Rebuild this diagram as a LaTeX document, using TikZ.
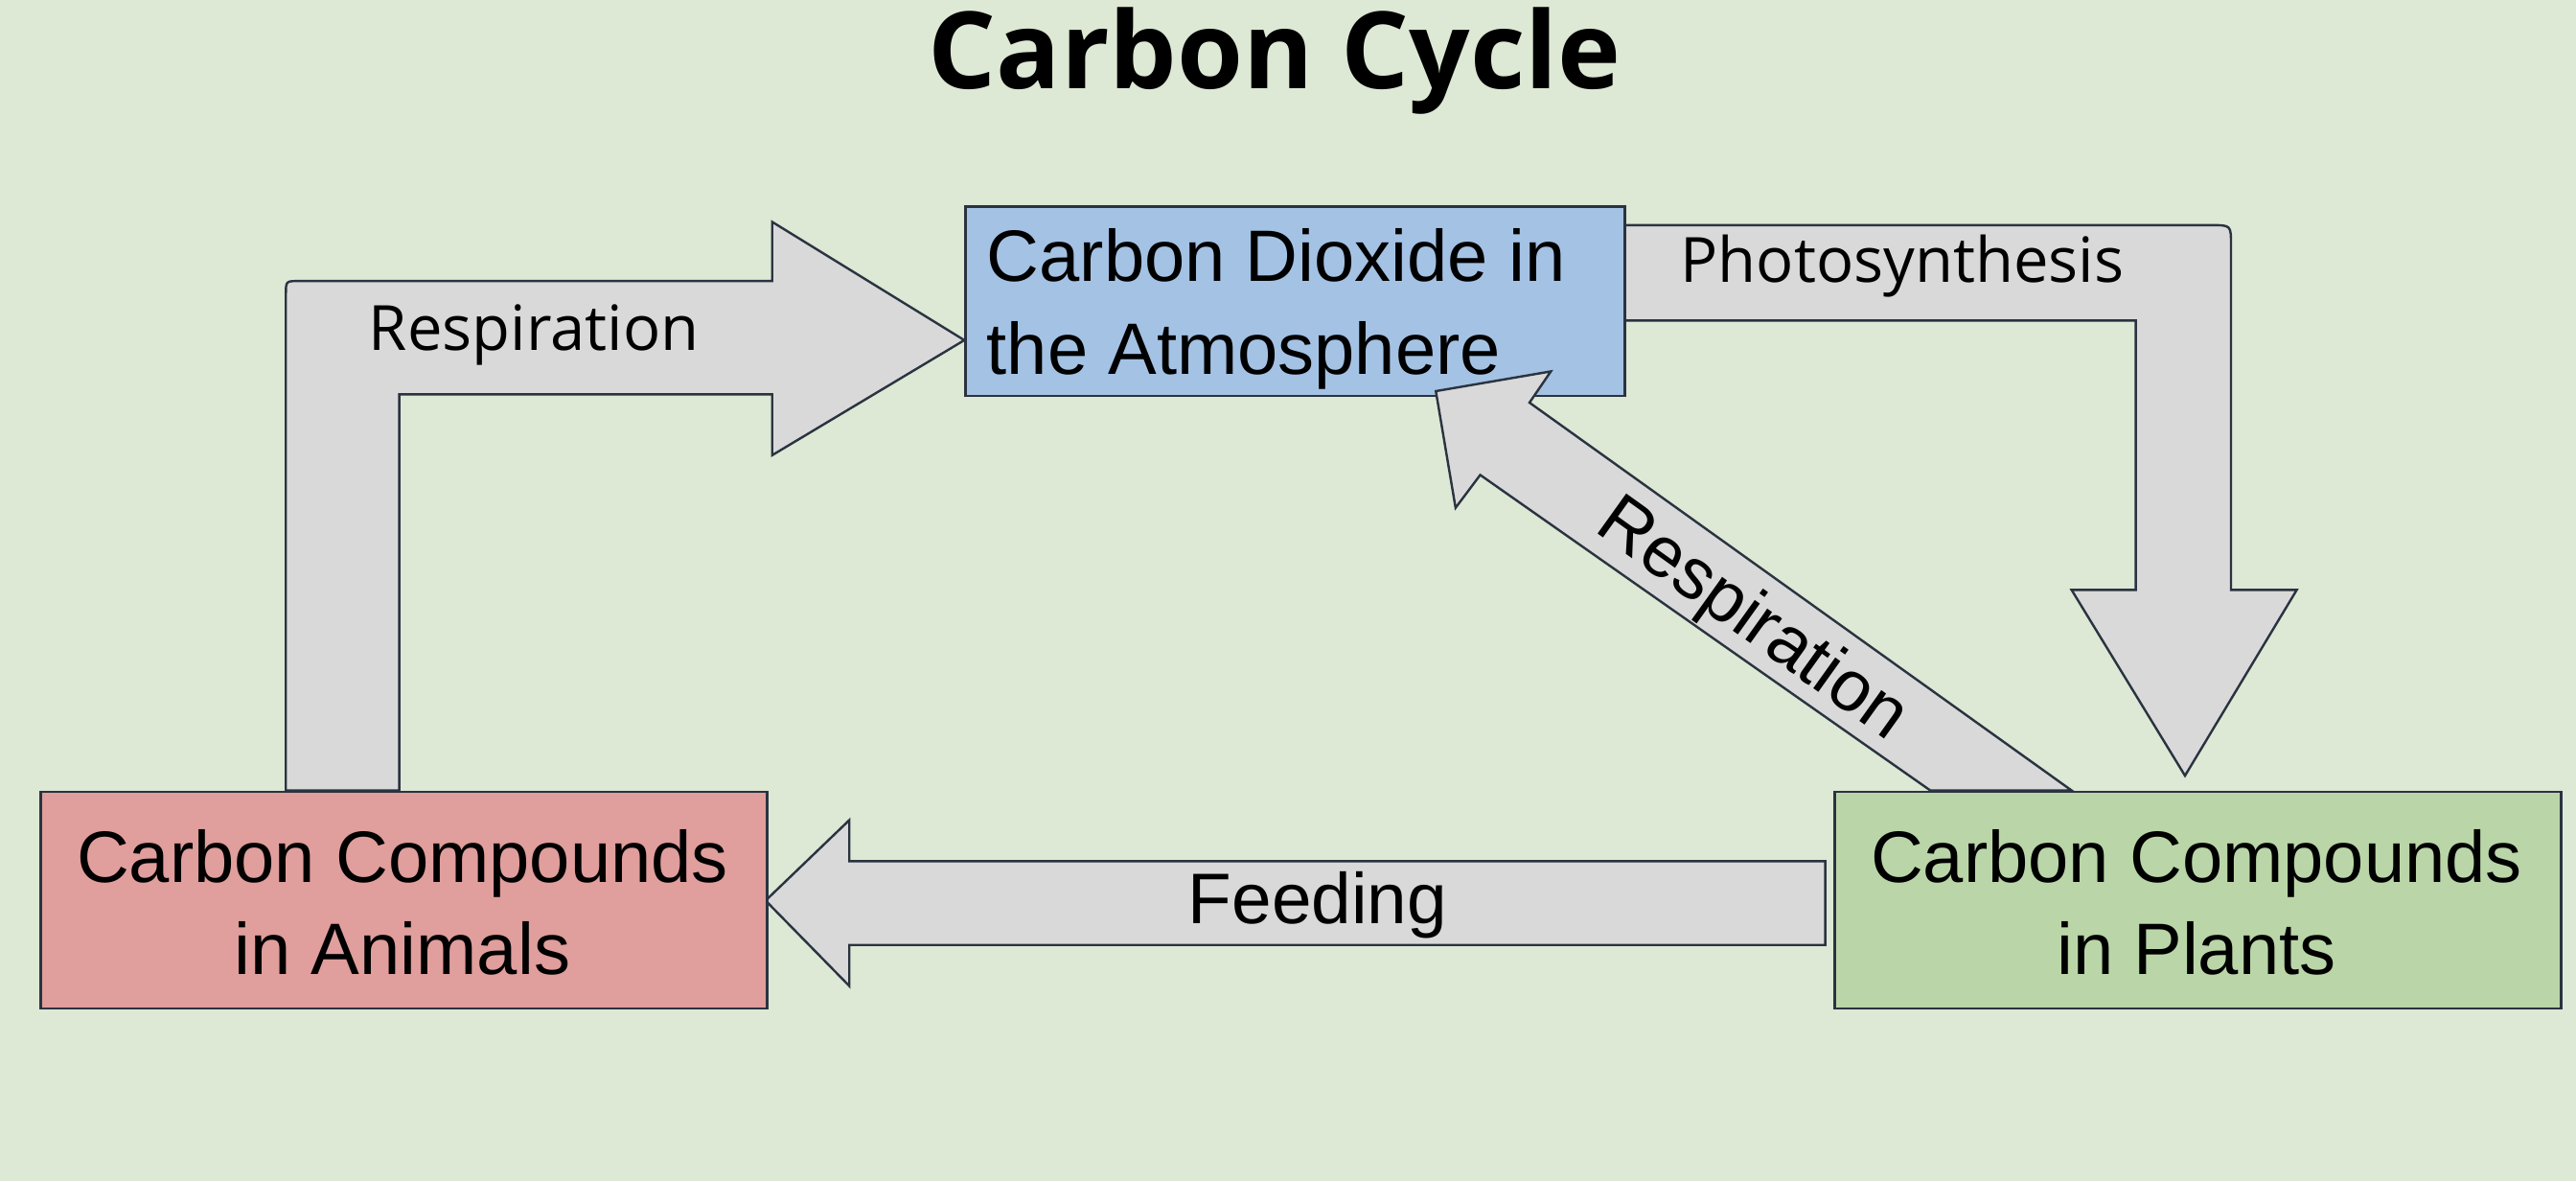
\documentclass[tikz,border=0pt]{standalone}
\usepackage{fontspec}
\setmainfont{Liberation Sans}
\newfontfamily\titlefont{Open Sans}
\definecolor{bg}{HTML}{DDE8D5}
\definecolor{arr}{HTML}{D9D9D9}
\definecolor{bluebox}{HTML}{A4C2E4}
\definecolor{redbox}{HTML}{E09E9C}
\definecolor{greenbox}{HTML}{BAD6A8}
\definecolor{edge}{HTML}{2A3340}
\begin{document}
\begin{tikzpicture}[x=0.01cm,y=-0.01cm,
  boxs/.style={draw=edge,line width=0.4pt,anchor=north west,inner sep=0pt},
  arrs/.style={draw=edge,fill=arr,line width=0.4pt,line join=miter},
  lbl/.style={font=\fontsize{10.8}{13}\selectfont\titlefont},
  btxt/.style={font=\fontsize{12.6}{16}\selectfont,align=center}]
\fill[bg] (0,0) rectangle (1568,718.7);
\useasboundingbox (0,0) rectangle (1568,718.7);
\node[font=\fontsize{18.5}{22}\selectfont\titlefont\bfseries] (title) at (776,37) {Carbon Cycle};
% arrows
\draw[arrs] (174,481) -- (174,179) .. controls (174,171) .. (182,171) -- (470,171) -- (470,135) -- (587,207) -- (470,277) -- (470,240) -- (243,240) -- (243,481) -- cycle;
\draw[arrs] (986,137) -- (1346,137) .. controls (1358,137) .. (1358,149) -- (1358,359) -- (1398,359) -- (1330,472) -- (1261,359) -- (1300,359) -- (1300,195) -- (986,195) -- cycle;
\draw[arrs] (466,548) -- (517,499) -- (517,524) -- (1111,524) -- (1111,575) -- (517,575) -- (517,600) -- cycle;
% boxes
\node[boxs,fill=bluebox,minimum width=4.01cm,minimum height=1.15cm] (co2) at (587,125) {};
\node[boxs,fill=redbox,minimum width=4.42cm,minimum height=1.32cm] (anim) at (24,481) {};
\node[boxs,fill=greenbox,minimum width=4.42cm,minimum height=1.32cm] (plant) at (1116,481) {};
\draw[arrs] (1175,481) -- (901,289) -- (886,309) -- (874,238) -- (944,226) -- (931,245) -- (1261,481) -- cycle;
\node[btxt,align=left,anchor=west,inner sep=0pt] (co2t) at (600,188) {Carbon Dioxide in\\the Atmosphere};
\node[btxt] (animt) at (245,549) {Carbon Compounds\\in Animals};
\node[btxt] (plantt) at (1337,549) {Carbon Compounds\\in Plants};
% labels
\node[lbl] (l1) at (325,204) {Respiration};
\node[lbl] (l2) at (1158,162) {Photosynthesis};
\node[font=\fontsize{12.4}{14}\selectfont] (l3) at (802,551) {Feeding};
\node[font=\fontsize{12.4}{14}\selectfont,rotate=-35.6,inner sep=0pt] (l4) at (1066,378) {Respiration};
\end{tikzpicture}
\end{document}
